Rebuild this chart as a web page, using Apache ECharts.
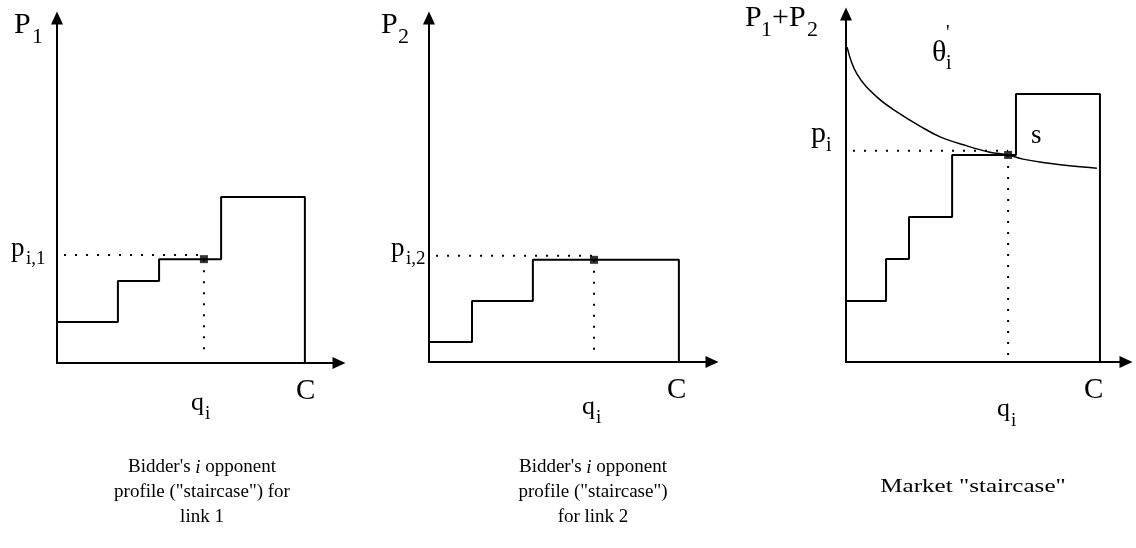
<!DOCTYPE html>
<html><head><meta charset="utf-8">
<script src="https://cdn.jsdelivr.net/npm/echarts@6/dist/echarts.min.js"></script>
<style>html,body{margin:0;padding:0;background:#fff}#c{width:1136px;height:548px}</style>
</head><body><div id="c"></div>
<script>
// ---- Panel 1: opponent profile for link 1 ----
const link1StepX = [0, 21.6, 36.2, 58.2, 87.9];
const link1Levels = [11.9, 23.8, 30.1, 48.1];
const link1Bid = [52.1, 30.1];
// ---- Panel 2: opponent profile for link 2 ----
const link2StepX = [0, 15.2, 36.7, 88.3];
const link2Levels = [5.8, 17.7, 29.7];
const link2Bid = [58.3, 29.7];
// ---- Panel 3: market staircase ----
const marketStepX = [0, 14.3, 22.5, 37.9, 60.7, 90.7];
const marketLevels = [17.5, 29.6, 41.7, 59.5, 77.0];
const marketBid = [57.9, 59.5];
const valuationX = [0.4, 3.9, 11.1, 19.3, 26.4, 33.6, 43.2, 51.4, 57.9, 63.2, 71.8, 80.7, 89.6];
const valuationY = [90.5, 82.8, 76.1, 71.3, 67.8, 64.7, 62.1, 60.3, 59.5, 58.3, 57.2, 56.3, 55.7];
// ---- Texts ----
const captions = [
  "Bidder's {it|i} opponent\nprofile (\"staircase\") for\nlink 1",
  "Bidder's {it|i} opponent\nprofile (\"staircase\")\nfor link 2",
  "Market \"staircase\""
];

const FONT = '"Liberation Serif", "DejaVu Serif", serif';

function staircase(xs, levels) {
  const pts = [[xs[0], levels[0]]];
  for (let i = 0; i < levels.length; i++) {
    pts.push([xs[i + 1], levels[i]]);
    if (i + 1 < levels.length) pts.push([xs[i + 1], levels[i + 1]]);
  }
  pts.push([xs[xs.length - 1], 0]);
  return pts;
}

const grids = [
  { left: 57, top: 18, width: 282, height: 345 },
  { left: 429, top: 18, width: 283, height: 344 },
  { left: 846, top: 14, width: 280, height: 348 }
];

const axisLine = {
  show: true, onZero: false,
  lineStyle: { color: '#000', width: 2 },
  symbol: ['none', 'triangle'], symbolSize: [12, 13]
};
const xAxes = grids.map((g, i) => ({
  gridIndex: i, type: 'value', min: 0, max: 100,
  axisLine, axisTick: { show: false }, axisLabel: { show: false }, splitLine: { show: false }
}));
const yAxes = grids.map((g, i) => ({
  gridIndex: i, type: 'value', min: 0, max: 100,
  axisLine, axisTick: { show: false }, axisLabel: { show: false }, splitLine: { show: false }
}));

const series = [];
const panels = [
  { xs: link1StepX, lv: link1Levels, bid: link1Bid, vStop: 1.4 },
  { xs: link2StepX, lv: link2Levels, bid: link2Bid, vStop: 3.5 },
  { xs: marketStepX, lv: marketLevels, bid: marketBid, vStop: 1.0 }
];
panels.forEach((p, i) => {
  series.push({
    type: 'line', xAxisIndex: i, yAxisIndex: i, data: staircase(p.xs, p.lv),
    symbol: 'none', lineStyle: { color: '#000', width: 2 }, z: 3, silent: true
  });
  series.push({
    type: 'line', xAxisIndex: i, yAxisIndex: i,
    data: [[2.5, p.bid[1] + 1.2], [p.bid[0], p.bid[1] + 1.2]],
    symbol: 'none', lineStyle: { color: '#000', width: 2, type: [2, 9] }, z: 2, silent: true
  });
  series.push({
    type: 'line', xAxisIndex: i, yAxisIndex: i,
    data: [[p.bid[0], p.bid[1]], [p.bid[0], p.vStop]],
    symbol: 'none', lineStyle: { color: '#000', width: 2, type: [2, 9] }, z: 2, silent: true
  });
  series.push({
    type: 'scatter', xAxisIndex: i, yAxisIndex: i, data: [p.bid],
    symbol: 'rect', symbolSize: 8, itemStyle: { color: '#000' }, z: 5, silent: true
  });
});
series.push({
  type: 'line', xAxisIndex: 2, yAxisIndex: 2,
  data: valuationX.map((x, k) => [x, valuationY[k]]),
  smooth: 0.4, symbol: 'none', lineStyle: { color: '#000', width: 1.5 }, z: 4, silent: true
});

// Text placed by its alphabetic baseline (px)
function txt(x, baseline, text, size) {
  return {
    type: 'text', x: x, y: baseline - 0.3375 * size, silent: true,
    style: { text, fontFamily: FONT, fontSize: size, fill: '#000', align: 'left', verticalAlign: 'middle' }
  };
}

const graphics = [
  // panel 1
  txt(14, 35, 'P', 30), txt(32, 45, '1', 22),
  txt(11, 258, 'p', 27), txt(26, 265, 'i,1', 19),
  txt(296, 401, 'C', 29),
  txt(191, 412, 'q', 26), txt(205, 420, 'i', 19),
  // panel 2
  txt(381, 35, 'P', 30), txt(398, 45, '2', 22),
  txt(391, 258, 'p', 27), txt(406, 265, 'i,2', 19),
  txt(667, 400, 'C', 29),
  txt(582, 416, 'q', 26), txt(596, 424, 'i', 19),
  // panel 3
  txt(745, 28, 'P', 30), txt(761, 38, '1', 22), txt(772, 28, '+P', 30), txt(807, 38, '2', 22),
  txt(932, 63, 'θ', 30), txt(946, 70, 'i', 20), txt(946, 40, "'", 20),
  txt(811, 144, 'p', 30), txt(826, 152, 'i', 20),
  txt(1031, 145, 's', 27),
  txt(1084, 400, 'C', 29),
  txt(997, 418, 'q', 26), txt(1011, 427, 'i', 19)
];
const capPos = [[202, 455, 1], [593, 455, 1], [973, 475, 1.32]];
captions.forEach((t, i) => {
  graphics.push({
    type: 'text', x: capPos[i][0], y: capPos[i][1], scaleX: capPos[i][2], silent: true,
    style: {
      text: t, align: 'center', verticalAlign: 'top', fontFamily: FONT, fontSize: 19,
      lineHeight: 25, fill: '#000',
      rich: { it: { fontFamily: FONT, fontSize: 19, fontStyle: 'italic', lineHeight: 25, fill: '#000' } }
    }
  });
});

const chart = echarts.init(document.getElementById('c'), null, { renderer: 'canvas' });
chart.setOption({
  animation: false,
  backgroundColor: '#fff',
  grid: grids,
  xAxis: xAxes,
  yAxis: yAxes,
  series,
  graphic: graphics
});
</script></body></html>
